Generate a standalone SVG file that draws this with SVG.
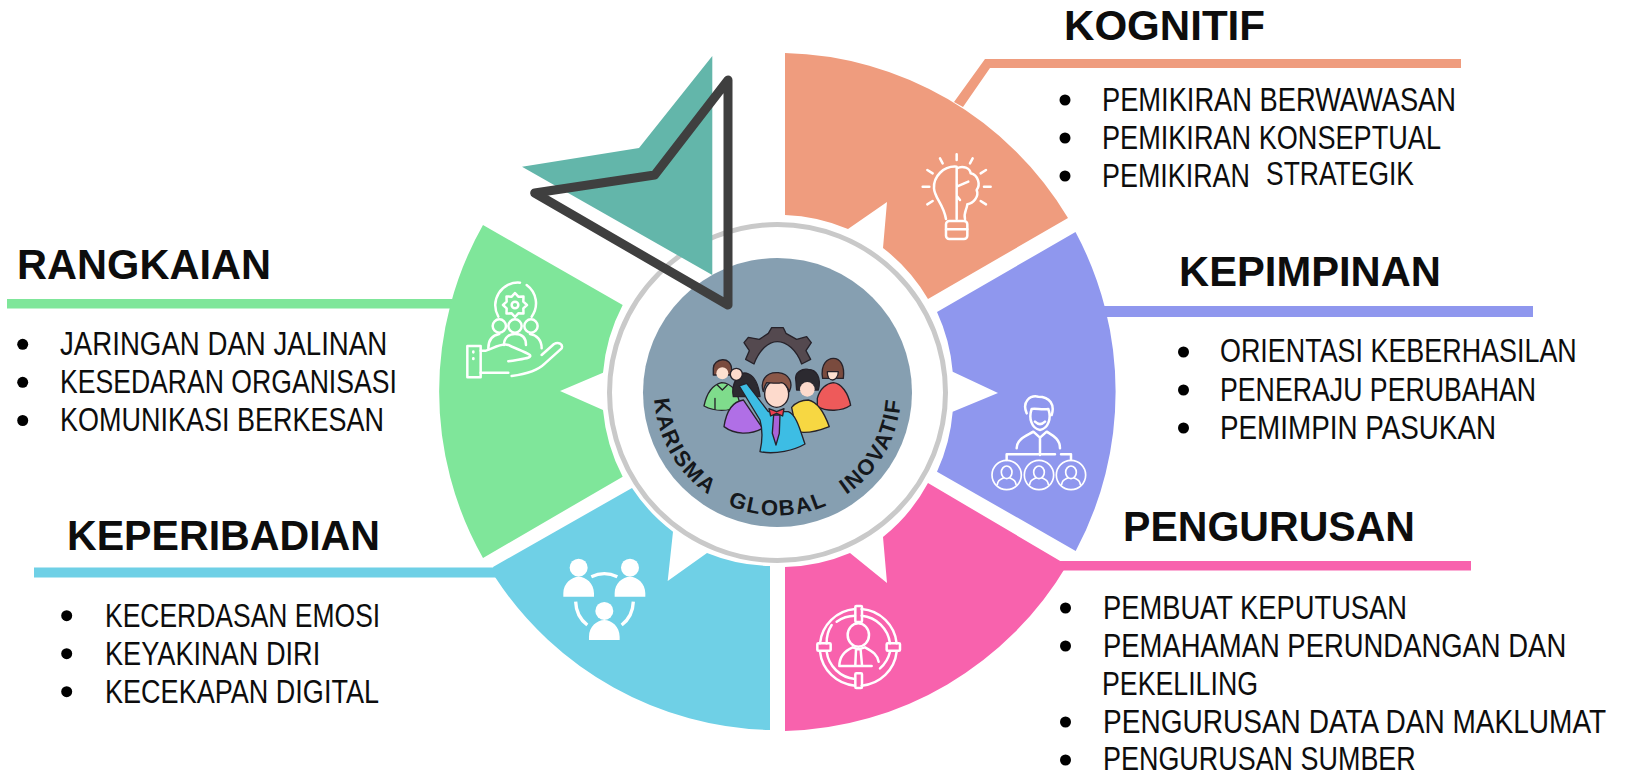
<svg xmlns="http://www.w3.org/2000/svg" width="1625" height="770" viewBox="0 0 1625 770">
<style>
text{font-family:"Liberation Sans",Arial,sans-serif;fill:#0d0d0d}
.h{font-weight:700;font-size:42.500px}
.t{font-size:33.500px}
.b{fill:#000}
.ic{fill:none;stroke:#fff;stroke-width:7.500;stroke-linecap:round;stroke-linejoin:round}
.il{stroke:#26222a;stroke-width:4;stroke-linejoin:round;stroke-linecap:round}
</style>
<defs>
<path id="arcText" d="M654 392A123.500 123.500 0 0 0 901 392"/>
<g id="miniP" class="ic" style="stroke-width:5">
<circle r="44"/>
<ellipse cy="-8" rx="16" ry="19"/>
<path d="M-28 28C-26 12-14 12-8 8M28 28C26 12 14 12 8 8"/>
</g>
</defs>
<rect width="1625" height="770" fill="#fff"/>
<g id="connectors">
<path fill="#ef9c7e" d="M954 102L985 59H1461V68H990L963 107Z"/>
<rect x="1100" y="306" width="433" height="11" fill="#8f97ee"/>
<rect x="1060" y="561" width="411" height="9.500" fill="#f862ad"/>
<rect x="7" y="299" width="450" height="9.500" fill="#7fe69a"/>
<rect x="34" y="567.500" width="470" height="10" fill="#6fd0e6"/>
</g>
<g id="node-kognitif">
<path fill="#ef9c7e" d="M785 53A339 339 0 0 1 1068 218L928 299A177.500 177.500 0 0 0 883 248L887 202L848 229A177.500 177.500 0 0 0 785 215Z"/>
<g transform="translate(910 145) scale(.3333)" class="ic">
<path d="M140 65C100 62 70 95 72 130C74 160 100 175 108 222M140 65V222M140 70C160 60 180 70 182 85C205 90 212 120 200 135C208 155 190 175 172 178C170 195 160 205 165 222M140 125L175 110M150 165L140 152"/>
<rect x="108" y="228" width="64" height="54" rx="10"/>
<path d="M108 253H172M140 28V45M90 40L98 55M188 40L180 55M52 75L68 85M228 75L212 85M38 125H58M222 125H242M52 178L68 168M228 178L212 168"/>
</g>
<text class="h" x="1064" y="40" textLength="201" lengthAdjust="spacingAndGlyphs">KOGNITIF</text>
<circle class="b" cx="1065" cy="100" r="5.500"/><circle class="b" cx="1065" cy="138" r="5.500"/><circle class="b" cx="1065" cy="176" r="5.500"/>
<text class="t" transform="translate(1102 110.500) scale(.8 1)" textLength="442.500" lengthAdjust="spacingAndGlyphs">PEMIKIRAN BERWAWASAN</text>
<text class="t" transform="translate(1102 148.500) scale(.8 1)" textLength="423.750" lengthAdjust="spacingAndGlyphs">PEMIKIRAN KONSEPTUAL</text>
<text class="t" transform="translate(1102 187) scale(.8 1)" textLength="185" lengthAdjust="spacingAndGlyphs">PEMIKIRAN</text>
<text class="t" transform="translate(1266 185) scale(.8 1)" textLength="185" lengthAdjust="spacingAndGlyphs">STRATEGIK</text>
</g>
<g id="node-kepimpinan">
<path fill="#8f97ee" d="M1075.500 232A338 338 0 0 1 1075.700 551L937 471.700A177 177 0 0 0 952.700 411.700L998 393L952.700 371.700A177 177 0 0 0 937 312Z"/>
<g transform="translate(985 385) scale(.3333)" class="ic">
<path d="M125 85C110 50 135 30 160 35C195 35 210 60 200 90M140 72C130 100 140 130 165 135C190 130 200 100 190 72C170 75 155 70 140 72ZM150 110Q165 125 180 110M95 190C95 160 130 150 145 140L165 158L185 140C200 150 225 160 225 190M165 158V210M65 225V208H210M228 208H258V225"/>
<use href="#miniP" x="65" y="270"/><use href="#miniP" x="162" y="270"/><use href="#miniP" x="258" y="270"/>
</g>
<text class="h" x="1179" y="286" textLength="262" lengthAdjust="spacingAndGlyphs">KEPIMPINAN</text>
<circle class="b" cx="1183.500" cy="352" r="5.500"/><circle class="b" cx="1183.500" cy="390" r="5.500"/><circle class="b" cx="1183.500" cy="428" r="5.500"/>
<text class="t" transform="translate(1220 362) scale(.8 1)" textLength="446" lengthAdjust="spacingAndGlyphs">ORIENTASI KEBERHASILAN</text>
<text class="t" transform="translate(1220 400.500) scale(.8 1)" textLength="395" lengthAdjust="spacingAndGlyphs">PENERAJU PERUBAHAN</text>
<text class="t" transform="translate(1220 439) scale(.8 1)" textLength="345" lengthAdjust="spacingAndGlyphs">PEMIMPIN PASUKAN</text>
</g>
<g id="node-pengurusan">
<path fill="#f862ad" d="M928 483L1067 565A338 338 0 0 1 785 731V567A175 175 0 0 0 850 553L887 583L883 537A175 175 0 0 0 928 483Z"/>
<g transform="translate(800 590) scale(.3333)" class="ic">
<path d="M185 57A115 115 0 0 1 290 160M290 185A115 115 0 0 1 185 287M165 287A115 115 0 0 1 60 185M60 160A115 115 0 0 1 165 57M185 77A95 95 0 0 1 270 160M270 185A95 95 0 0 1 240 235M165 267A95 95 0 0 1 80 185M80 160A95 95 0 0 1 95 105M110 95A95 95 0 0 1 165 77"/>
<rect x="166" y="48" width="20" height="48" rx="3"/><rect x="166" y="250" width="20" height="44" rx="3"/><rect x="52" y="160" width="40" height="22" rx="3"/><rect x="260" y="160" width="40" height="22" rx="3"/>
<ellipse cx="175" cy="135" rx="32" ry="35"/>
<path d="M118 228C118 195 140 180 158 172L175 178L195 172C220 185 232 195 236 215M118 228H215M168 180L166 225M182 180L186 225"/>
</g>
<text class="h" x="1123" y="540.500" textLength="292" lengthAdjust="spacingAndGlyphs">PENGURUSAN</text>
<circle class="b" cx="1065.500" cy="608" r="5.500"/><circle class="b" cx="1065.500" cy="646" r="5.500"/><circle class="b" cx="1065.500" cy="722" r="5.500"/><circle class="b" cx="1065.500" cy="760" r="5.500"/>
<text class="t" transform="translate(1103 619) scale(.8 1)" textLength="380" lengthAdjust="spacingAndGlyphs">PEMBUAT KEPUTUSAN</text>
<text class="t" transform="translate(1103 657) scale(.8 1)" textLength="579" lengthAdjust="spacingAndGlyphs">PEMAHAMAN PERUNDANGAN DAN</text>
<text class="t" transform="translate(1102 695) scale(.8 1)" textLength="195" lengthAdjust="spacingAndGlyphs">PEKELILING</text>
<text class="t" transform="translate(1103 733) scale(.8 1)" textLength="629" lengthAdjust="spacingAndGlyphs">PENGURUSAN DATA DAN MAKLUMAT</text>
<text class="t" transform="translate(1103 770) scale(.8 1)" textLength="391" lengthAdjust="spacingAndGlyphs">PENGURUSAN SUMBER</text>
</g>
<g id="node-keperibadian">
<path fill="#6fd0e6" d="M632 488L493 567L495 577A338 338 0 0 0 770 730V566A174 174 0 0 1 707 553L667.700 581L673 531.700A174 174 0 0 1 632 488Z"/>
<g transform="translate(470 480) scale(.3333)" fill="#fff">
<circle cx="326" cy="263" r="27"/><circle cx="480" cy="263" r="27"/><circle cx="403" cy="393" r="27"/>
<path d="M280 350V340C280 310 305 290 326 290C348 290 372 310 372 340V350ZM434 350V340C434 310 458 290 480 290C502 290 526 310 526 340V350ZM357 480V470C357 440 381 420 403 420C425 420 449 440 449 470V480Z"/>
<path fill="none" stroke="#fff" stroke-width="10" d="M364 290Q403 272 442 290M317 365C318 395 332 420 352 435M490 365C489 395 475 420 455 435"/>
</g>
<text class="h" x="67" y="549.500" textLength="313" lengthAdjust="spacingAndGlyphs">KEPERIBADIAN</text>
<circle class="b" cx="66.700" cy="615.700" r="5.500"/><circle class="b" cx="66.700" cy="653.700" r="5.500"/><circle class="b" cx="66.700" cy="691.700" r="5.500"/>
<text class="t" transform="translate(105 626.500) scale(.8 1)" textLength="344" lengthAdjust="spacingAndGlyphs">KECERDASAN EMOSI</text>
<text class="t" transform="translate(105 664.500) scale(.8 1)" textLength="269" lengthAdjust="spacingAndGlyphs">KEYAKINAN DIRI</text>
<text class="t" transform="translate(105 702.500) scale(.8 1)" textLength="342.500" lengthAdjust="spacingAndGlyphs">KECEKAPAN DIGITAL</text>
</g>
<g id="node-rangkaian">
<path fill="#7fe69a" d="M483 225A338 338 0 0 0 483 558L622.700 476.700A177.500 177.500 0 0 1 603 410L560 391L603 372.700A177.500 177.500 0 0 1 622.700 305Z"/>
<g transform="translate(430 220) scale(.3333)" class="ic">
<path d="M205 290A68 68 0 0 1 270 188M290 195A68 68 0 0 1 305 290"/>
<path d="M291 255L280 245L280.500 229.500L265 230L255 219L245 230L229.500 229.500L230 245L219 255L230 265L229.500 280.500L245 280L255 291L265 280L280.500 280.500L280 265Z"/>
<circle cx="255" cy="255" r="10"/>
<circle cx="208" cy="318" r="20"/><circle cx="255" cy="318" r="20"/><circle cx="303" cy="318" r="20"/>
<path d="M175 385C175 355 190 345 208 342M222 375C222 350 240 342 255 342C272 342 288 350 288 375M300 342C320 345 335 360 335 385"/>
<rect x="112" y="378" width="40" height="94"/>
<path d="M152 392H168C190 385 215 368 235 375C255 385 285 395 300 405C305 415 285 415 235 424M152 458H235M245 468C290 462 325 450 345 430L395 385C400 372 385 365 372 372L335 405"/>
<path d="M130 395V397M130 415V417" stroke-width="8"/>
</g>
<text class="h" x="17" y="279" textLength="254" lengthAdjust="spacingAndGlyphs">RANGKAIAN</text>
<circle class="b" cx="22.700" cy="344.300" r="5.500"/><circle class="b" cx="22.700" cy="382.300" r="5.500"/><circle class="b" cx="22.700" cy="420.500" r="5.500"/>
<text class="t" transform="translate(60 354.500) scale(.8 1)" textLength="409" lengthAdjust="spacingAndGlyphs">JARINGAN DAN JALINAN</text>
<text class="t" transform="translate(60 392.500) scale(.8 1)" textLength="421" lengthAdjust="spacingAndGlyphs">KESEDARAN ORGANISASI</text>
<text class="t" transform="translate(60 430.500) scale(.8 1)" textLength="405" lengthAdjust="spacingAndGlyphs">KOMUNIKASI BERKESAN</text>
</g>
<g id="node-center">
<circle cx="777.500" cy="392.500" r="168" fill="#fff" stroke="#c9c9c9" stroke-width="5"/>
<circle cx="777.500" cy="392.500" r="134.500" fill="#869fb1"/>
<text font-weight="700" font-size="22" letter-spacing="1.800" word-spacing="13" style="fill:#15181c"><textPath href="#arcText" startOffset="50%" text-anchor="middle">KARISMA GLOBAL INOVATIF</textPath></text>
<g transform="translate(600 300) scale(.3333)">
<path fill="#54494f" class="il" d="M432 128L445 112L478 118L505 100L515 83H550L558 100L590 118L620 110L634 128L618 152L632 178L605 192C590 150 560 125 532 125C505 125 478 150 462 192L437 178L448 152Z"/>
<path fill="#7fdc8c" class="il" d="M312 318C320 280 335 255 365 248C395 250 415 275 420 318C385 335 345 335 312 318Z"/>
<path class="il" fill="none" d="M352 255L367 270L382 255M345 295V328"/>
<path fill="#7a4b3e" class="il" d="M340 205C340 175 395 165 395 210L395 225L340 225Z"/>
<circle cx="367" cy="220" r="18" fill="#fde0d0"/>
<path fill="#ee5a5a" class="il" d="M652 295C660 265 680 250 700 248C725 250 745 280 752 316C725 335 680 335 652 320Z"/>
<path fill="#7a4b3e" class="il" d="M668 235C660 190 685 175 700 175C720 175 735 195 730 235Z"/>
<path class="il" fill="#fde0d0" d="M682 215H715C715 232 705 240 698 240C690 240 682 232 682 215Z"/>
<path fill="#2c2a30" class="il" d="M410 235C420 210 470 205 480 290L400 290C395 265 400 250 410 235Z"/>
<path fill="#b06fe6" class="il" d="M372 380C378 340 395 305 430 300L488 385C450 405 405 405 372 380Z"/>
<path fill="#f7d742" class="il" d="M575 322C590 305 605 300 625 300C650 305 670 330 688 380C650 395 620 402 590 395Z"/>
<path fill="#2c2a30" class="il" d="M588 245C580 215 610 205 625 208C650 208 665 235 655 270L640 270H590Z"/>
<circle cx="622" cy="268" r="22" fill="#fddacc"/>
<path fill="#3dbde4" class="il" d="M418 258L440 250L505 335H565C590 345 600 390 615 432C585 450 525 465 480 455C488 420 487 385 480 360Z"/>
<path fill="#a962d8" class="il" d="M521 345H540L538 400L528 435L517 400Z"/>
<path fill="#ee3f4f" class="il" d="M507 326L530 335L552 326L548 348L530 340L512 348Z"/>
<ellipse cx="530" cy="282" rx="36" ry="40" fill="#fddacc" class="il"/>
<path fill="#8a5748" class="il" d="M490 275C480 245 495 215 535 218C570 222 580 250 568 275C562 260 555 250 545 248C530 252 510 248 500 248C495 255 492 265 490 275Z"/>
<circle cx="409" cy="223" r="18" fill="#fddacc" class="il"/>
</g>
</g>
<g id="node-arrow">
<polygon points="712.300,56 639,148 522,166.700 712.300,275" fill="#63b6aa"/>
<polygon points="728,80 654.700,175 534.700,193 728,305" fill="none" stroke="#3f3f3f" stroke-width="9" stroke-linejoin="round"/>
</g>
</svg>
